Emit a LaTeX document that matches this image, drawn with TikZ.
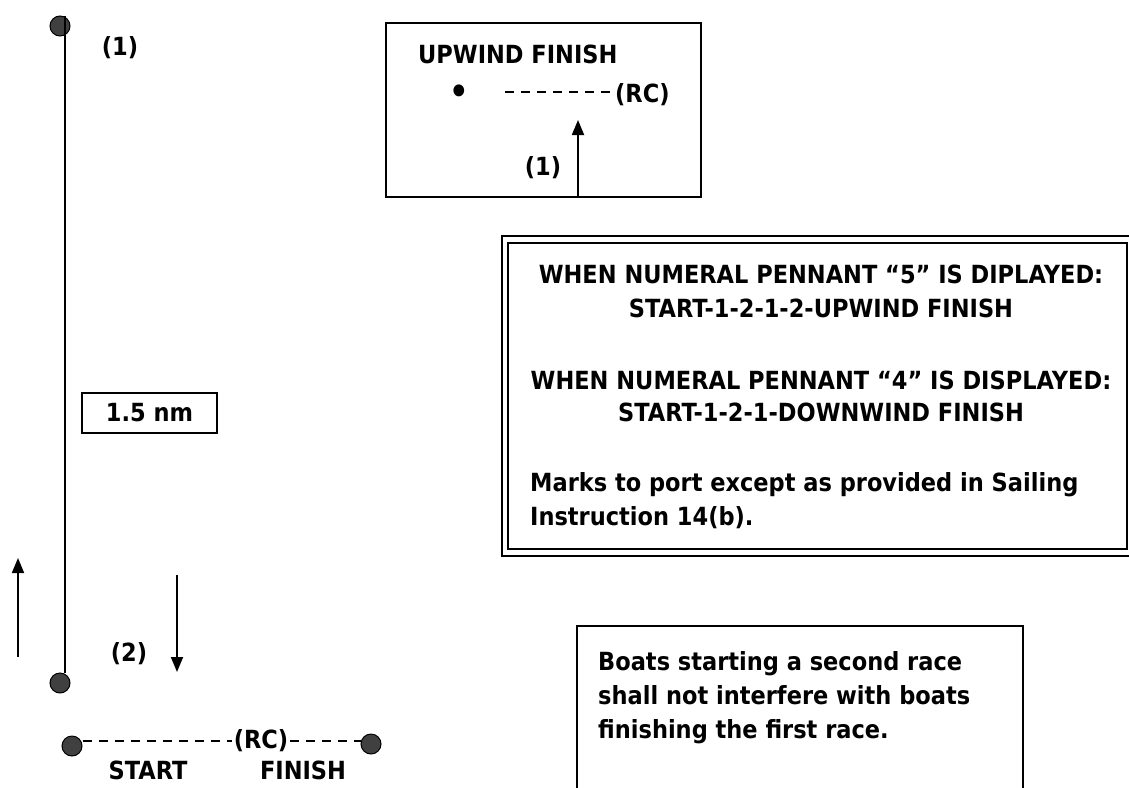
\documentclass[tikz,border=0pt]{standalone}
\usepackage{fontspec}
\setmainfont{DejaVu Sans}[FakeStretch=0.9]
\usetikzlibrary{arrows.meta}
\definecolor{markgray}{HTML}{404040}
\begin{document}
\begin{tikzpicture}[x=1pt,y=-1pt,
  txt/.style={font=\fontsize{25}{34}\selectfont\bfseries, inner sep=0pt},
  markc/.style={circle, draw=black, line width=1pt, fill=markgray, minimum size=20pt, inner sep=0pt},
  arr/.style={line width=1.8pt, -{Triangle[length=15pt,width=12pt]}},
  dsh/.style={line width=2.6pt, dash pattern=on 9pt off 7pt},
  boxline/.style={draw, line width=1.8pt}]
\useasboundingbox (0,0) rectangle (1129,787);
\clip (0,0) rectangle (1129,787);
% course line
\node[markc] (mtop) at (60,26) {};
\node[markc] (mbot) at (60,683) {};
\draw[line width=2pt] ([xshift=5pt]mtop.north) -- ([xshift=5pt]mbot.north);
\node[txt, anchor=base] (lab1) at (120,55) {(1)};
\node[txt, draw, line width=1.5pt, minimum width=135pt, minimum height=40pt] (dist) at (149.5,413) {1.5 nm};
% arrows
\coordinate (u1s) at (18,657);
\coordinate (u1e) at (18,558);
\draw[arr] (u1s) -- (u1e);
\coordinate (d1s) at (177,575);
\coordinate (d1e) at (177,672);
\draw[arr] (d1s) -- (d1e);
\node[txt, anchor=base] (lab2) at (129,661) {(2)};
% start / finish line
\node[markc] (sl) at (72,746) {};
\node[markc] (sr) at (371,744) {};
\node[txt, anchor=base, inner xsep=2pt] (rc2) at (261,748) {(RC)};
\draw[dsh] ([yshift=5pt]sl.east) -- ([yshift=5pt]sl.east -| rc2.west);
\draw[dsh] ([yshift=5pt]sl.east -| rc2.east) -- ([yshift=3pt]sr.west);
\node[txt, anchor=base] (start) at (148,779) {START};
\node[txt, anchor=base] (finish) at (303,779) {FINISH};
% upwind finish box
\node[boxline, minimum width=315pt, minimum height=174pt, anchor=north west, inner sep=0pt] (upbox) at (385,22) {};
\node[txt, anchor=base west] (upt) at (418,63) {UPWIND FINISH};
\node[txt, anchor=base, font=\fontsize{34}{34}\selectfont\bfseries] (bul) at (459,103) {•};
\node[txt, anchor=base west] (rc1) at (615,102) {(RC)};
\coordinate (ds1) at (505,92);
\draw[dsh] (ds1) -- (ds1 -| rc1.west);
\coordinate (ub) at (578,196);
\coordinate (ut) at (578,120);
\draw[arr] (ub) -- (ut);
\node[txt, anchor=base] (lab3) at (543,175) {(1)};
% rules box (double border)
\draw[line width=2.2pt] (502,236) rectangle (1140,556);
\draw[line width=1.3pt] (508,243) rectangle (1127,549);
\node[txt, anchor=base] (r1) at (821,283) {WHEN NUMERAL PENNANT “5” IS DIPLAYED:};
\node[txt, anchor=base] (r2) at (821,317) {START-1-2-1-2-UPWIND FINISH};
\node[txt, anchor=base] (r3) at (821,389) {WHEN NUMERAL PENNANT “4” IS DISPLAYED:};
\node[txt, anchor=base] (r4) at (821,421) {START-1-2-1-DOWNWIND FINISH};
\node[txt, anchor=base west] (r5) at (530,491) {Marks to port except as provided in Sailing};
\node[txt, anchor=base west] (r6) at (530,525) {Instruction 14(b).};
% note box
\draw[line width=1.8pt] (577,800) -- (577,626) -- (1023,626) -- (1023,800);
\node[txt, anchor=base west] (b1) at (598,670) {Boats starting a second race};
\node[txt, anchor=base west] (b2) at (598,704) {shall not interfere with boats};
\node[txt, anchor=base west] (b3) at (598,738) {finishing the first race.};
\end{tikzpicture}
\end{document}
